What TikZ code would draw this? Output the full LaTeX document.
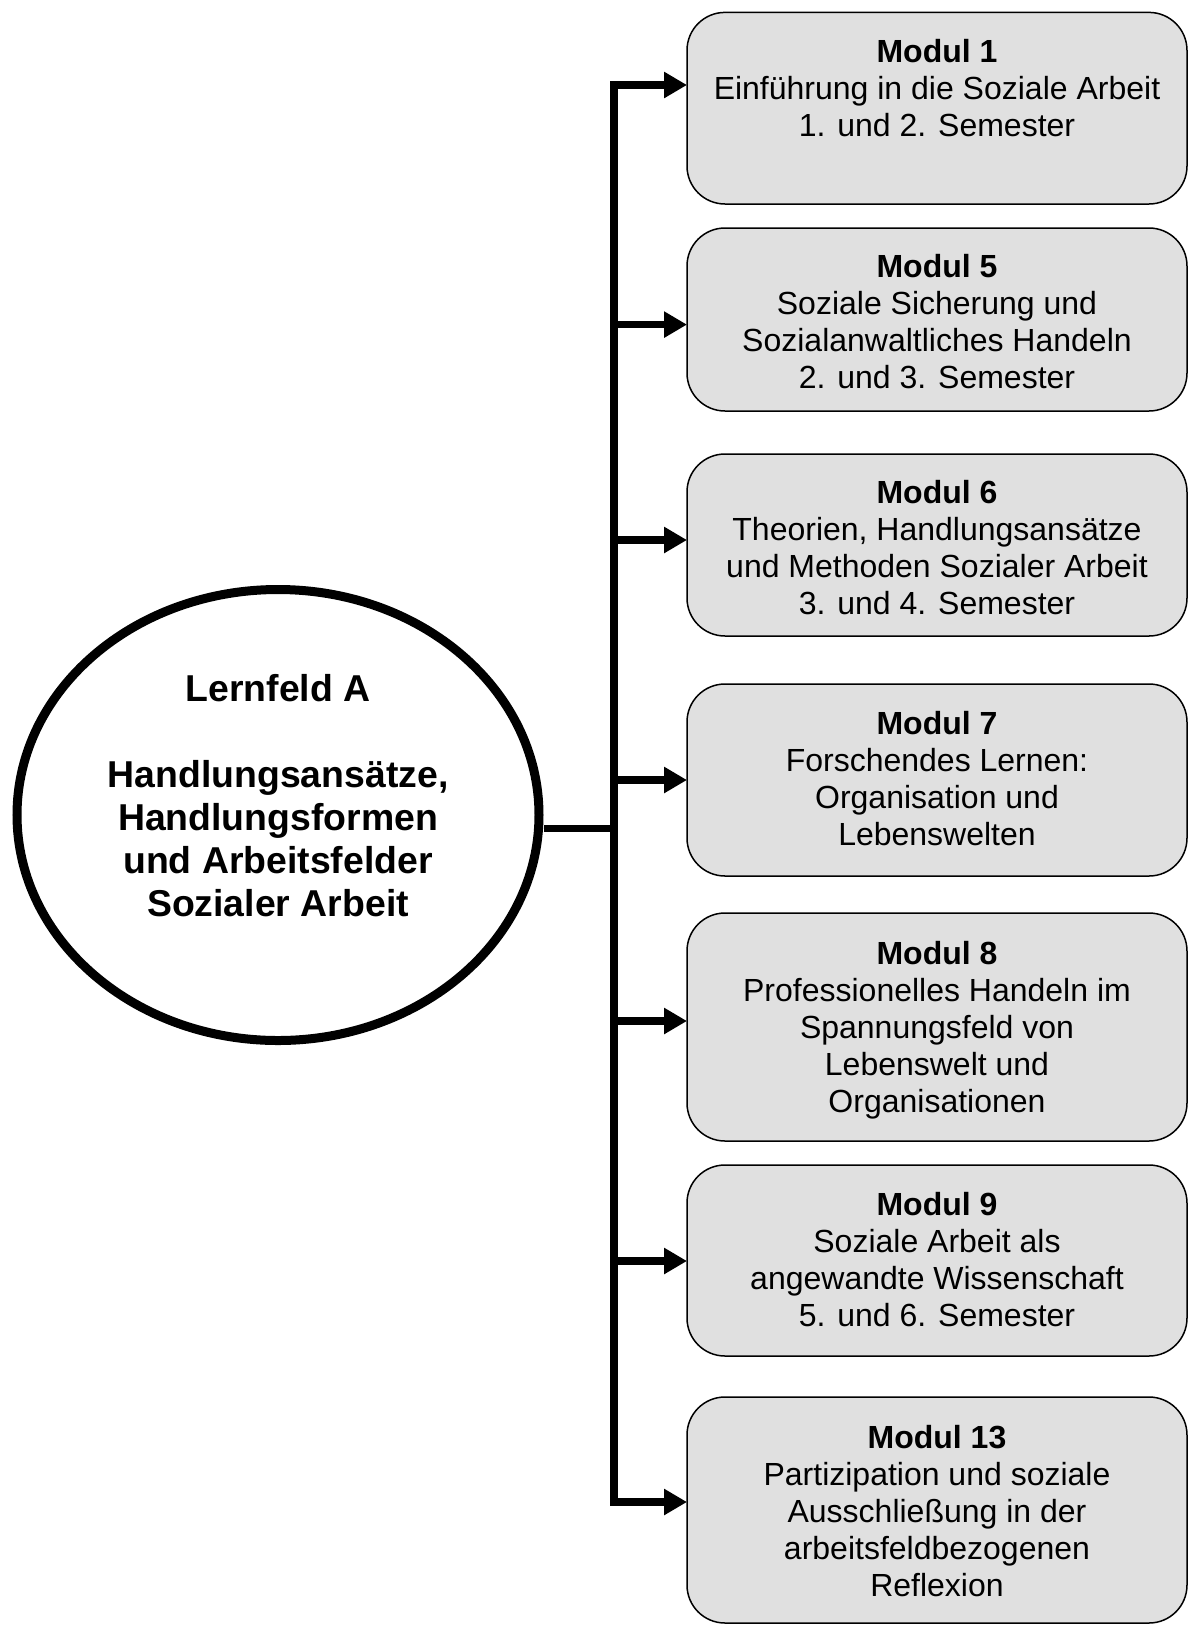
\documentclass[tikz,border=0pt]{standalone}
\usepackage{fontspec}
\setmainfont{Liberation Sans}
\usetikzlibrary{arrows.meta,shapes.geometric,calc}
\definecolor{boxfill}{RGB}{224,224,224}
\begin{document}
\begin{tikzpicture}[x=1pt,y=-1pt,
  modbox/.style={draw=black, line width=1.5pt, fill=boxfill, rounded corners=38pt,
    minimum width=500pt, inner sep=0pt, outer sep=0pt, anchor=north west},
  modtext/.style={align=center, anchor=north, inner sep=0pt,
    font=\fontsize{32}{37}\selectfont},
  thick line/.style={line width=7.5pt},
  conn/.style={thick line, -{Triangle[length=23pt,width=25pt]}}
]
\useasboundingbox (0,0) rectangle (1189,1626);

% central ellipse
\node[ellipse, draw=black, line width=9pt, minimum width=522pt, minimum height=451pt,
  inner sep=0pt] (lf) at (278,815) {};
\node[align=center, anchor=north, inner sep=0pt,
  font=\bfseries\fontsize{37.4}{43}\selectfont] (lft) at (278,674)
  {Lernfeld A\\[43pt]Handlungsansätze,\\Handlungsformen\\und Arbeitsfelder\\Sozialer Arbeit};

% module boxes
\node[modbox, minimum height=191.6pt] (m1) at (687,12.4) {};
\node[modbox, minimum height=183pt] (m5) at (687,228) {};
\node[modbox, minimum height=182pt] (m6) at (687,454) {};
\node[modbox, minimum height=192pt] (m7) at (687,684) {};
\node[modbox, minimum height=228pt] (m8) at (687,913) {};
\node[modbox, minimum height=191pt] (m9) at (687,1165) {};
\node[modbox, minimum height=226pt] (m13) at (687,1397) {};

\node[modtext] (m1t) at ($(m1.north)+(0,26.6)$)
  {\textbf{Modul 1}\\Einführung in die Soziale Arbeit\\1. und 2. Semester};
\node[modtext] (m5t) at ($(m5.north)+(0,26.6)$)
  {\textbf{Modul 5}\\Soziale Sicherung und\\Sozialanwaltliches Handeln\\2. und 3. Semester};
\node[modtext] (m6t) at ($(m6.north)+(0,26.6)$)
  {\textbf{Modul 6}\\Theorien, Handlungsansätze\\und Methoden Sozialer Arbeit\\3. und 4. Semester};
\node[modtext] (m7t) at ($(m7.north)+(0,26.6)$)
  {\textbf{Modul 7}\\Forschendes Lernen:\\Organisation und\\Lebenswelten};
\node[modtext] (m8t) at ($(m8.north)+(0,27.6)$)
  {\textbf{Modul 8}\\Professionelles Handeln im\\Spannungsfeld von\\Lebenswelt und\\Organisationen};
\node[modtext] (m9t) at ($(m9.north)+(0,26.6)$)
  {\textbf{Modul 9}\\Soziale Arbeit als\\angewandte Wissenschaft\\5. und 6. Semester};
\node[modtext] (m13t) at ($(m13.north)+(0,27.6)$)
  {\textbf{Modul 13}\\Partizipation und soziale\\Ausschließung in der\\arbeitsfeldbezogenen\\Reflexion};

% trunk coordinates
\coordinate (t1) at (614,85);
\coordinate (t5) at (614,324.6);
\coordinate (t6) at (614,540);
\coordinate (t7) at (614,780);
\coordinate (j) at (614,828.6);
\coordinate (t8) at (614,1021);
\coordinate (t9) at (614,1261);
\coordinate (t13) at (614,1502);

% connectors
\draw[thick line] (lf.east |- j) -- (j);
\draw[thick line, {Triangle[length=23pt,width=25pt]}-{Triangle[length=23pt,width=25pt]}]
  (m1.west |- t1) -- (t1) -- (t13) -- (m13.west |- t13);
\draw[conn] (t5) -- (t5 -| m5.west);
\draw[conn] (t6) -- (t6 -| m6.west);
\draw[conn] (t7) -- (t7 -| m7.west);
\draw[conn] (t8) -- (t8 -| m8.west);
\draw[conn] (t9) -- (t9 -| m9.west);
\end{tikzpicture}
\end{document}
